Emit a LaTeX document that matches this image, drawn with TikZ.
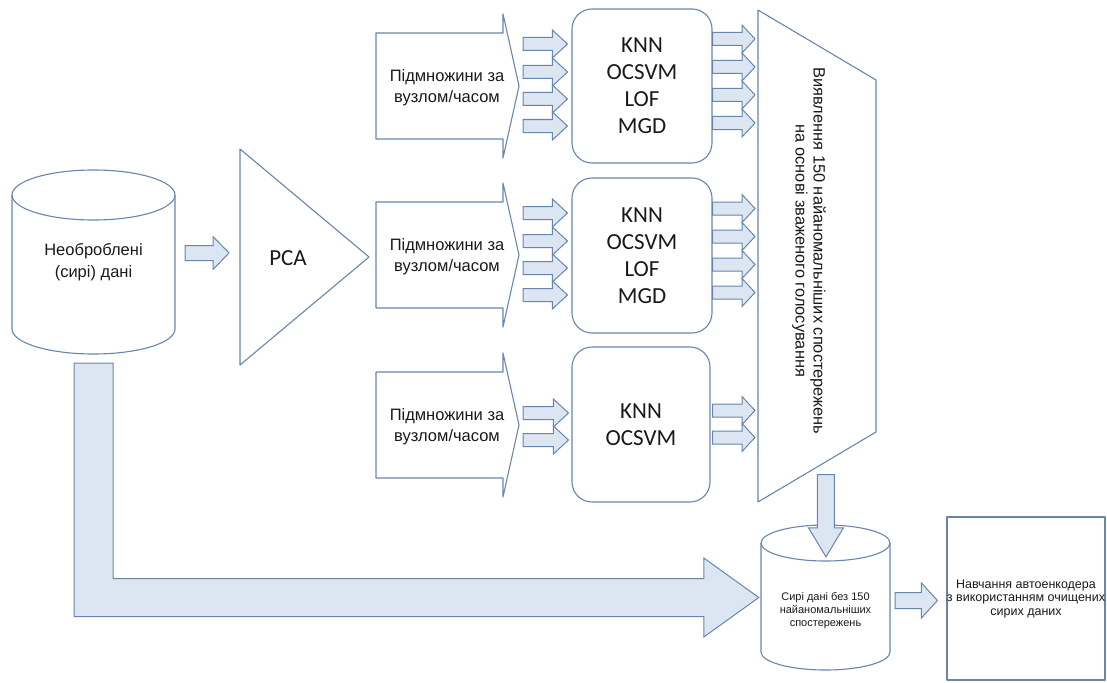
\documentclass[tikz,border=0pt]{standalone}
\usepackage{fontspec}
\setmainfont{Liberation Sans}
\newfontfamily\calibri{Carlito}
\usetikzlibrary{calc}

\definecolor{edgeblue}{RGB}{104,134,172}
\definecolor{fillblue}{RGB}{220,230,242}
\definecolor{ink}{RGB}{25,25,25}

\tikzstyle{outline} = [draw=edgeblue, line width=1.1pt, line join=round]
\tikzstyle{blk} = [draw=edgeblue, fill=fillblue, line width=1pt, line join=miter]
\tikzstyle{algo} = [outline, rectangle, rounded corners=20pt, align=center, text=ink, font=\calibri\fontsize{23}{27}\selectfont]
\tikzstyle{subtxt} = [align=center, text=ink, font=\fontsize{16.5}{21}\selectfont]

% block arrow to the right: start, tip, shaft half, head half, head length
\newcommand{\blkarrow}[5]{%
\draw[blk] let \p1=#1, \p2=#2 in
  (\x1,\y1+#3) -- (\x2-#5,\y1+#3) -- (\x2-#5,\y1+#4) -- (\x2,\y1)
  -- (\x2-#5,\y1-#4) -- (\x2-#5,\y1-#3) -- (\x1,\y1-#3) -- cycle;}
% block arrow downwards: start, tip, shaft half, head half, head length
\newcommand{\downblkarrow}[5]{%
\draw[blk] let \p1=#1, \p2=#2 in
  (\x1-#3,\y1) -- (\x1-#3,\y2+#5) -- (\x1-#4,\y2+#5) -- (\x1,\y2)
  -- (\x1+#4,\y2+#5) -- (\x1+#3,\y2+#5) -- (\x1+#3,\y1) -- cycle;}
% subset block: name, centre y
\newcommand{\subblock}[2]{%
\draw[outline] (376,#2-53) -- (503,#2-53) -- (503,#2-72) -- (519,#2)
  -- (503,#2+72) -- (503,#2+53) -- (376,#2+53) -- cycle;
\coordinate (#1tip) at (519,#2);
\node[subtxt] (#1) at (447,#2+2) {Підмножини за\\вузлом/часом};}
% data store: name, centre x, top y, bottom y, x radius, y radius
\newcommand{\dbshape}[6]{%
\draw[outline] (#2-#5,#3+#6) -- (#2-#5,#4-#6)
  arc[start angle=180, end angle=360, x radius=#5pt, y radius=#6pt] -- (#2+#5,#3+#6);
\draw[outline] (#2,#3+#6) ellipse [x radius=#5pt, y radius=#6pt];
\node[inner sep=0pt, minimum width=2*#5pt, minimum height=#4pt-#3pt] (#1) at (#2,#3/2+#4/2) {};}

\begin{document}
\begin{tikzpicture}[x=1pt, y=-1pt]
\useasboundingbox (0,0) rectangle (1107,682);
%raw data
\dbshape{raw}{93.5}{170}{354}{81.5}{25}
\node[align=center, text=ink, font=\fontsize{16.5}{22}\selectfont] (rawtxt) at (raw) {Необроблені\\(сирі) дані};
%begin PCA
\coordinate (pcatop) at (240,149);
\coordinate (pcatip) at (369,257);
\coordinate (pcabot) at (240,365);
\draw[outline] (pcatop) -- (pcatip) -- (pcabot) -- cycle;
\node[text=ink, font=\calibri\fontsize{23}{27}\selectfont] (pca) at (288,258) {PCA};
\blkarrow{($(raw.east)+(10,-9)$)}{($(pcatop)+(-11,0)$)}{7.5pt}{16.5pt}{16pt}
%end PCA
%begin subsets
\subblock{sub1}{86}
\subblock{sub2}{255}
\subblock{sub3}{425}
%end subsets
%begin detectors
\node[algo, minimum width=140pt, minimum height=154pt] (algo1) at (642,86) {KNN\\OCSVM\\LOF\\MGD};
\node[algo, minimum width=140pt, minimum height=155pt] (algo2) at (642,255.5) {KNN\\OCSVM\\LOF\\MGD};
\node[algo, minimum width=138pt, minimum height=155pt] (algo3) at (641,424.5) {KNN\\OCSVM};
%end detectors
%begin row1 inputs
\blkarrow{($(sub1tip)+(4,-42)$)}{($(algo1.west)+(-4,0)$)}{6.5pt}{14pt}{15pt}
\blkarrow{($(sub1tip)+(4,-14)$)}{($(algo1.west)+(-4,0)$)}{6.5pt}{14pt}{15pt}
\blkarrow{($(sub1tip)+(4,13)$)}{($(algo1.west)+(-4,0)$)}{6.5pt}{14pt}{15pt}
\blkarrow{($(sub1tip)+(4,40)$)}{($(algo1.west)+(-4,0)$)}{6.5pt}{14pt}{15pt}
%end row1 inputs
%begin row2 inputs
\blkarrow{($(sub2tip)+(4,-42)$)}{($(algo2.west)+(-4,0)$)}{6.5pt}{14pt}{15pt}
\blkarrow{($(sub2tip)+(4,-14)$)}{($(algo2.west)+(-4,0)$)}{6.5pt}{14pt}{15pt}
\blkarrow{($(sub2tip)+(4,13)$)}{($(algo2.west)+(-4,0)$)}{6.5pt}{14pt}{15pt}
\blkarrow{($(sub2tip)+(4,40)$)}{($(algo2.west)+(-4,0)$)}{6.5pt}{14pt}{15pt}
%end row2 inputs
%begin row3 inputs
\blkarrow{($(sub3tip)+(4,-12)$)}{($(algo3.west)+(-3,0)$)}{6.5pt}{14pt}{15pt}
\blkarrow{($(sub3tip)+(4,15)$)}{($(algo3.west)+(-3,0)$)}{6.5pt}{14pt}{15pt}
%end row3 inputs
%begin voting
\coordinate (vtl) at (758,10);
\coordinate (vtr) at (876,80);
\coordinate (vbr) at (876,432);
\coordinate (vbl) at (758,502);
\draw[outline] (vtl) -- (vtr) -- (vbr) -- (vbl) -- cycle;
\node[rotate=-90, align=center, text=ink, font=\fontsize{16.4}{18}\selectfont] (vote) at (809,251)
     {Виявлення 150 найаномальніших спостережень\\на основі зваженого голосування};
%end voting
%begin row1 outputs
\blkarrow{($(algo1.east)+(0,-47)$)}{($(vtl)+(-3,0)$)}{6.5pt}{14pt}{13pt}
\blkarrow{($(algo1.east)+(0,-19)$)}{($(vtl)+(-3,0)$)}{6.5pt}{14pt}{13pt}
\blkarrow{($(algo1.east)+(0,9)$)}{($(vtl)+(-3,0)$)}{6.5pt}{14pt}{13pt}
\blkarrow{($(algo1.east)+(0,37)$)}{($(vtl)+(-3,0)$)}{6.5pt}{14pt}{13pt}
%end row1 outputs
%begin row2 outputs
\blkarrow{($(algo2.east)+(0,-47)$)}{($(vtl)+(-3,0)$)}{6.5pt}{14pt}{13pt}
\blkarrow{($(algo2.east)+(0,-19)$)}{($(vtl)+(-3,0)$)}{6.5pt}{14pt}{13pt}
\blkarrow{($(algo2.east)+(0,9)$)}{($(vtl)+(-3,0)$)}{6.5pt}{14pt}{13pt}
\blkarrow{($(algo2.east)+(0,37)$)}{($(vtl)+(-3,0)$)}{6.5pt}{14pt}{13pt}
%end row2 outputs
%begin row3 outputs
\blkarrow{($(algo3.east)+(2,-14)$)}{($(vtl)+(-3,0)$)}{6.5pt}{14pt}{13pt}
\blkarrow{($(algo3.east)+(2,13)$)}{($(vtl)+(-3,0)$)}{6.5pt}{14pt}{13pt}
%end row3 outputs
%begin cleaned data
\dbshape{store}{825.5}{525}{670}{64.5}{18}
\node[align=center, text=ink, font=\fontsize{11}{13}\selectfont] (storetxt) at ($(store)+(0,13)$)
     {Сирі дані без 150\\найаномальніших\\спостережень};
\downblkarrow{($(vbl)!0.576!(vbr)+(0,13)$)}{($(store.north)+(0,32)$)}{8.5pt}{17.5pt}{29pt}
\draw[blk] let \p1=($(raw.south)+(0,9)$), \p2=($(store.west)+(-2,0)$) in
  (\x1-19.5pt,\y1) -- (\x1+19.5pt,\y1) -- (\x1+19.5pt,\y2+19pt) -- (\x2-55pt,\y2+19pt)
  -- (\x2-55pt,\y2+39.5pt) -- (\x2,\y2) -- (\x2-55pt,\y2-39.5pt) -- (\x2-55pt,\y2-19pt)
  -- (\x1-19.5pt,\y2-19pt) -- cycle;
%end cleaned data
%begin training
\node[outline, rectangle, minimum width=158pt, minimum height=163pt,
      label={[align=center, text=ink, font=\fontsize{12.5}{13.5}\selectfont]center:{Навчання автоенкодера\\з використанням очищених\\сирих даних}}]
      (train) at (1026,598.5) {};
\blkarrow{($(store.east)+(5,3)$)}{($(train.west)+(-9,0)$)}{8pt}{17.5pt}{16pt}
%end training
\end{tikzpicture}
\end{document}
